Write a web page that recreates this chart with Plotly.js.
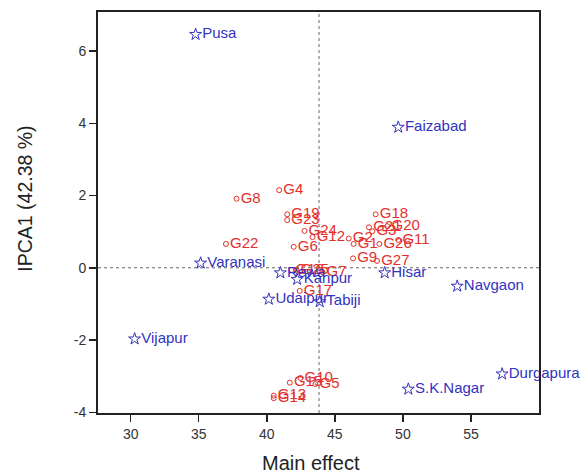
<!DOCTYPE html>
<html>
<head>
<meta charset="utf-8">
<script src="https://cdn.plot.ly/plotly-3.0.1.min.js"></script>
<style>html,body{margin:0;padding:0;background:#fff;}#chart{width:582px;height:475px;}</style>
</head>
<body>
<div id="chart"></div>
<script>
// Environments (blue stars)
const envNames = ["Pusa","Faizabad","Varanasi","Rewa","Kanpur","Hisar","Udaipur","Tabiji","Navgaon","Vijapur","Durgapura","S.K.Nagar"];
const envMain  = [34.77, 49.66, 35.14, 41.0, 42.23, 48.66, 40.15, 43.89, 53.99, 30.29, 57.29, 50.4];
const envIPCA1 = [6.46, 3.89, 0.13, -0.14, -0.32, -0.14, -0.87, -0.94, -0.51, -1.97, -2.94, -3.36];

// Genotypes (red circles)
const genNames = ["G1","G2","G3","G4","G5","G6","G7","G8","G9","G10","G11","G12","G13","G14","G15","G16","G17","G18","G19","G20","G21","G22","G23","G24","G25","G26","G27"];
const genMain  = [46.38, 46.02, 47.75, 40.91, 43.57, 41.98, 44.09, 37.78, 46.34, 42.47, 49.66, 43.36, 40.51, 40.51, 41.69, 41.81, 42.42, 48.0, 41.5, 48.86, 47.51, 37.0, 41.5, 42.77, 42.18, 48.27, 48.1];
const genIPCA1 = [0.66, 0.81, 1.01, 2.15, -3.22, 0.58, -0.12, 1.91, 0.26, -3.05, 0.77, 0.85, -3.54, -3.61, -3.18, -0.06, -0.64, 1.48, 1.48, 1.15, 1.12, 0.66, 1.32, 1.02, -0.06, 0.66, 0.19];

// Axis ticks
const xTickVals = [30, 35, 40, 45, 50, 55];
const xTickText = ["30", "35", "40", "45", "50", "55"];
const yTickVals = [-4, -2, 0, 2, 4, 6];
const yTickText = ["-4", "-2", "0", "2", "4", "6"];

const grandMean = 43.84;
const xRange = [27.6, 60.0];
const yRange = [-4.02, 7.08];

const FONT = "Liberation Sans, Arial, sans-serif";

const traces = [
  {
    x: genMain, y: genIPCA1, text: genNames, type: "scatter", mode: "markers+text",
    textposition: "middle right",
    marker: {symbol: "circle-open", size: 5, color: "#e3302c", line: {width: 1, color: "#e3302c"}},
    textfont: {family: FONT, size: 15, color: "#e3302c"},
    cliponaxis: false, hoverinfo: "text"
  },
  {
    x: envMain, y: envIPCA1, text: envNames, type: "scatter", mode: "markers+text",
    textposition: "middle right",
    marker: {symbol: "star-open", size: 9, color: "#3232c0", line: {width: 1, color: "#3232c0"}},
    textfont: {family: FONT, size: 15, color: "#3232c0"},
    cliponaxis: false, hoverinfo: "text"
  }
];

const layout = {
  width: 582, height: 475,
  margin: {l: 98, r: 43, t: 12, b: 62},
  paper_bgcolor: "#fff", plot_bgcolor: "#fff",
  showlegend: false,
  font: {family: FONT, color: "#333"},
  xaxis: {
    range: xRange, tickvals: xTickVals, ticktext: xTickText, ticks: "outside", ticklen: 7, tickwidth: 1.5, tickcolor: "#222",
    showline: true, linecolor: "#222", linewidth: 2, mirror: true, showgrid: false, zeroline: false,
    tickfont: {family: FONT, size: 14, color: "#333"}
  },
  yaxis: {
    range: yRange, tickvals: yTickVals, ticktext: yTickText, ticks: "outside", ticklen: 7, tickwidth: 1.5, tickcolor: "#222",
    showline: true, linecolor: "#222", linewidth: 2, mirror: true, showgrid: false, zeroline: false,
    tickfont: {family: FONT, size: 14, color: "#333"}
  },
  annotations: [
    {text: "Main effect", xref: "paper", yref: "paper", x: 0.482, y: -0.093, yanchor: "top", xanchor: "center",
     showarrow: false, font: {family: FONT, size: 20, color: "#222"}},
    {text: "IPCA1 (42.38 %)", xref: "paper", yref: "paper", x: -0.165, y: 0.535, xanchor: "center", yanchor: "middle",
     textangle: -90, showarrow: false, font: {family: FONT, size: 19.5, color: "#222"}}
  ],
  shapes: [
    {type: "line", xref: "paper", x0: 0, x1: 1, yref: "y", y0: 0, y1: 0, line: {color: "#666", width: 1, dash: "dot"}, layer: "below"},
    {type: "line", xref: "x", x0: grandMean, x1: grandMean, yref: "paper", y0: 0, y1: 1, line: {color: "#666", width: 1, dash: "dot"}, layer: "below"}
  ]
};

Plotly.newPlot("chart", traces, layout, {displayModeBar: false, staticPlot: true});
</script>
</body>
</html>
